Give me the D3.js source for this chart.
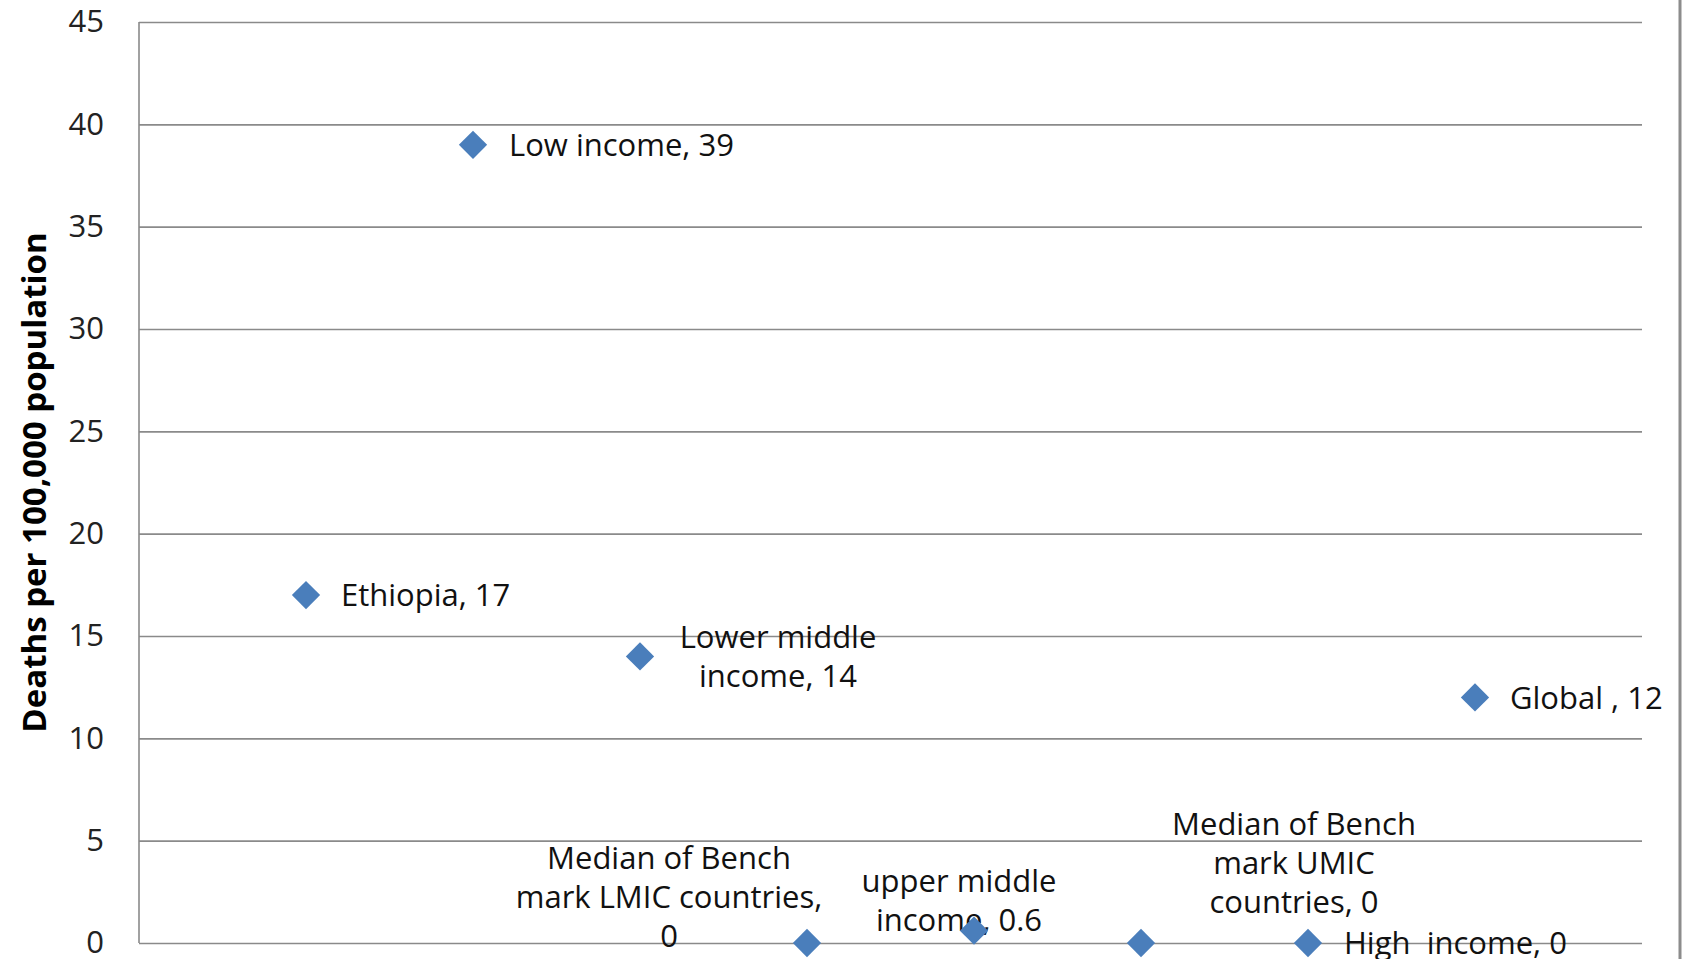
<!DOCTYPE html>
<html>
<head>
<meta charset="utf-8">
<script src="https://cdn.jsdelivr.net/npm/d3@7"></script>
<style>
  body { margin: 0; background: #fff; }
  text { font-family: "Open Sans", sans-serif; white-space: pre; }
</style>
</head>
<body>
<svg id="chart" width="1685" height="959"></svg>
<script>
// data
const names = ["Ethiopia", "Low income", "Lower middle income", "Median of Bench mark LMIC countries",
  "upper middle income", "Median of Bench mark UMIC countries", "High  income", "Global "];
const xIndex = [1, 2, 3, 4, 5, 6, 7, 8];
const values = [17, 39, 14, 0, 0.6, 0, 0, 12];
const labelLines = [
  ["Ethiopia, 17"],
  ["Low income, 39"],
  ["Lower middle", "income, 14"],
  ["Median of Bench", "mark LMIC countries,", "0"],
  ["upper middle", "income, 0.6"],
  ["Median of Bench", "mark UMIC", "countries, 0"],
  ["High  income, 0"],
  ["Global , 12"]
];
const yTicks = [0, 5, 10, 15, 20, 25, 30, 35, 40, 45];
const yTitle = "Deaths per 100,000 population";

// where each data label sits relative to its point
const labelPos = [
  { anchor: "start", dx: 35, dy: 0 },
  { anchor: "start", dx: 36, dy: 0 },
  { anchor: "middle", dx: 138, dy: 0 },
  { anchor: "middle", dx: -138, dy: -46 },
  { anchor: "middle", dx: -15, dy: -30 },
  { anchor: "middle", dx: 153, dy: -80 },
  { anchor: "start", dx: 36, dy: 0 },
  { anchor: "start", dx: 35, dy: 0 }
];

const svg = d3.select("#chart");
const plotL = 139, plotR = 1642, plotT = 22, plotB = 943;

const x = d3.scaleLinear().domain([0, 9]).range([plotL, plotR]);
const y = d3.scaleLinear().domain([0, 45]).range([plotB, plotT]);

// gridlines + tick labels
const yAxis = svg.append("g")
  .attr("transform", `translate(${plotL},0)`)
  .call(d3.axisLeft(y).tickValues(yTicks).tickSize(-(plotR - plotL)).tickPadding(35));
yAxis.select(".domain").remove();
yAxis.selectAll(".tick line").attr("stroke", "#8a8a8a").attr("stroke-width", 1.6);
yAxis.selectAll(".tick text")
  .attr("font-family", "Open Sans")
  .attr("font-size", 31)
  .attr("fill", "#222");

// vertical axis line
svg.append("line")
  .attr("x1", plotL).attr("x2", plotL)
  .attr("y1", plotT).attr("y2", plotB)
  .attr("stroke", "#8a8a8a").attr("stroke-width", 1.6);

// outer border on the right
svg.append("line")
  .attr("x1", 1680).attr("x2", 1680)
  .attr("y1", 0).attr("y2", 959)
  .attr("stroke", "#8c8c8c").attr("stroke-width", 3);

// axis title
svg.append("text")
  .attr("transform", `translate(33,${(plotT + plotB) / 2}) rotate(-90)`)
  .attr("text-anchor", "middle")
  .attr("dominant-baseline", "central")
  .attr("font-size", 33)
  .attr("font-weight", "bold")
  .attr("fill", "#000")
  .text(yTitle);

const pts = values.map((v, i) => ({ x: xIndex[i], v, lines: labelLines[i], pos: labelPos[i], name: names[i] }));

// labels
const lineH = 39;
pts.forEach(d => {
  const px = x(d.x), py = y(d.v);
  const n = d.lines.length;
  const t = svg.append("text")
    .attr("text-anchor", d.pos.anchor)
    .attr("font-size", 31)
    .attr("fill", "#111");
  d.lines.forEach((line, j) => {
    t.append("tspan")
      .attr("x", px + d.pos.dx)
      .attr("y", py + d.pos.dy + (j - (n - 1) / 2) * lineH)
      .attr("dy", "0.36em")
      .text(line);
  });
});

// diamond markers
svg.append("g").selectAll("path")
  .data(pts)
  .join("path")
  .attr("d", d3.symbol(d3.symbolSquare, 400))
  .attr("transform", d => `translate(${x(d.x)},${y(d.v)}) rotate(45)`)
  .attr("fill", "#4a7ebb");
</script>
</body>
</html>
